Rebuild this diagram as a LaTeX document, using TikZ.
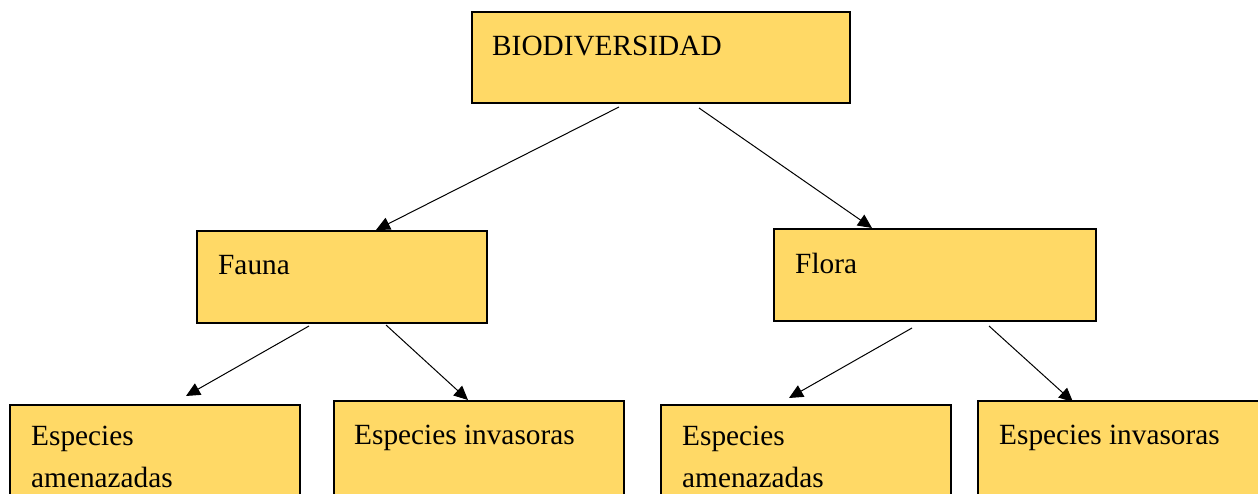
\documentclass[tikz,border=0pt]{standalone}
\usepackage{fontspec}
\setmainfont{Liberation Serif}
\usetikzlibrary{arrows.meta}
\definecolor{boxfill}{HTML}{FFD966}
\tikzset{
  box/.style={draw=black, line width=2pt, fill=boxfill, anchor=north west, inner sep=0pt, outer sep=0pt},
  lbl/.style={anchor=base west, inner sep=0pt, font=\fontsize{29.3pt}{42pt}\selectfont, align=left},
  arr/.style={line width=1pt, -{Triangle[length=14pt,width=13pt]}}
}
\begin{document}
\begin{tikzpicture}[x=1pt,y=-1pt]
\useasboundingbox (0,0) rectangle (1258,494);
\clip (0,0) rectangle (1258,494);
% boxes
\node[box, minimum width=378pt, minimum height=91pt] (bio) at (472,12) {};
\node[box, minimum width=290pt, minimum height=92pt] (fauna) at (197,231) {};
\node[box, minimum width=322pt, minimum height=92pt] (flora) at (774,229) {};
\node[box, minimum width=290pt, minimum height=110pt] (fa) at (10,405) {};
\node[box, minimum width=290pt, minimum height=110pt] (fi) at (334,401) {};
\node[box, minimum width=290pt, minimum height=110pt] (la) at (661,405) {};
\node[box, minimum width=300pt, minimum height=110pt] (li) at (978,401) {};
% labels
\node[lbl] (tbio) at (492,56) {BIODIVERSIDAD};
\node[lbl] (tfauna) at (218,275) {Fauna};
\node[lbl] (tflora) at (795,274) {Flora};
\node[lbl] (tfa) at (31,487) {Especies\\amenazadas};
\node[lbl] (tfi) at (354,444) {Especies invasoras};
\node[lbl] (tla) at (682,487) {Especies\\amenazadas};
\node[lbl] (tli) at (999,444) {Especies invasoras};
% connector ends
\coordinate (s1) at (619,107); \coordinate (t1) at (376,230);
\coordinate (s2) at (699,108); \coordinate (t2) at (872,228);
\coordinate (s3) at (309,326); \coordinate (t3) at (186,396);
\coordinate (s4) at (386,325); \coordinate (t4) at (468,400);
\coordinate (s5) at (912,328); \coordinate (t5) at (789,398);
\coordinate (s6) at (989,326); \coordinate (t6) at (1073,402);
\draw[arr] (s1) -- (t1);
\draw[arr] (s2) -- (t2);
\draw[arr] (s3) -- (t3);
\draw[arr] (s4) -- (t4);
\draw[arr] (s5) -- (t5);
\draw[arr] (s6) -- (t6);
\end{tikzpicture}
\end{document}
